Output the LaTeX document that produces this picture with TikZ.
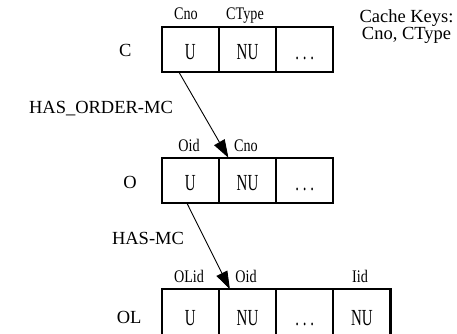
\documentclass[tikz,border=0pt]{standalone}
\usepackage{fontspec}
\setmainfont{Liberation Serif}
\usetikzlibrary{arrows.meta}
\begin{document}
\begin{tikzpicture}[x=1pt,y=-1pt,
  cell/.style={draw,line width=2.2pt,minimum width=57.2pt,minimum height=45.5pt,inner sep=0pt,outer sep=0pt},
  celltxt/.style={font=\fontsize{23}{25}\selectfont,inner sep=0pt,anchor=base,xscale=0.65},
  hdr/.style={font=\fontsize{17.7}{19}\selectfont,inner sep=0pt,anchor=base,xscale=0.8},
  lbl/.style={font=\fontsize{18.5}{20}\selectfont,inner sep=0pt},
  rel/.style={line width=0.9pt,-{Triangle[length=18pt,width=12pt]}}]
\useasboundingbox (0,0) rectangle (457,334);
% row C
\node[cell] (c1) at (190.3,49.5) {};
\node[cell] (c2) at (247.5,49.5) {};
\node[cell] (c3) at (304.7,49.5) {};
\node[celltxt] (c1t) at (190.3,59.3) {U};
\node[celltxt] (c2t) at (247.5,59.3) {NU};
\node[celltxt] (c3t) at (304.7,59.3) {.\kern5.8pt.\kern5.8pt.};
\node[hdr] (c1h) at (186,20) {Cno};
\node[hdr] (c2h) at (245,20) {CType};
\node[lbl] (cl) at (125.3,50) {C};
% row O
\node[cell] (o1) at (190.3,180.5) {};
\node[cell] (o2) at (247.5,180.5) {};
\node[cell] (o3) at (304.7,180.5) {};
\node[celltxt] (o1t) at (190.3,190) {U};
\node[celltxt] (o2t) at (247.5,190) {NU};
\node[celltxt] (o3t) at (304.7,190) {.\kern5.8pt.\kern5.8pt.};
\node[hdr] (o1h) at (189,151) {Oid};
\node[hdr] (o2h) at (246,151) {Cno};
\node[lbl] (ol) at (130,182) {O};
% row OL
\node[cell,minimum height=47pt] (l1) at (190.3,312.8) {};
\node[cell,minimum height=47pt] (l2) at (247.5,312.8) {};
\node[cell,minimum height=47pt] (l3) at (304.7,312.8) {};
\node[cell,minimum height=47pt] (l4) at (361.9,312.8) {};
\node[celltxt] (l1t) at (190.3,325) {U};
\node[celltxt] (l2t) at (247.5,325) {NU};
\node[celltxt] (l3t) at (304.7,325) {.\kern5.8pt.\kern5.8pt.};
\node[celltxt] (l4t) at (361.9,325) {NU};
\node[hdr] (l1h) at (189,282) {OLid};
\node[hdr] (l2h) at (246,282) {Oid};
\node[hdr] (l4h) at (360,282) {Iid};
\node[lbl] (oll) at (129.2,317) {OL};
% relationship labels
\node[lbl] (r1) at (101,108.8) {HAS\_ORDER-MC};
\node[lbl] (r2) at (148,238.8) {HAS-MC};
\node[lbl,align=center,font=\fontsize{18.5}{16}\selectfont] (ck) at (406.5,26.7) {Cache Keys:\\Cno, CType};
% connectors
\draw[rel] ([xshift=17.3pt]c1.south west) -- ([xshift=9.5pt]o2.north west);
\draw[rel] ([xshift=25.3pt]o1.south west) -- ([xshift=11pt]l2.north west);
\end{tikzpicture}
\end{document}
